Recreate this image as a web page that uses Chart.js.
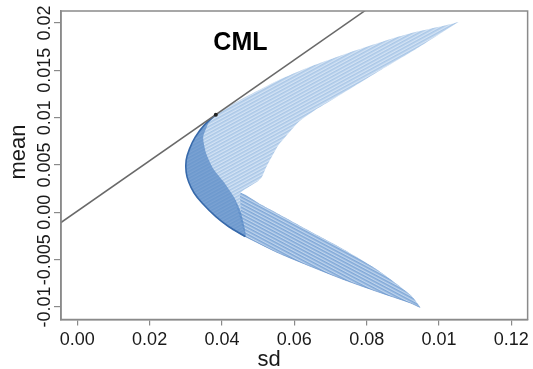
<!DOCTYPE html>
<html>
<head>
<meta charset="utf-8">
<script src="https://cdn.jsdelivr.net/npm/chart.js@4.4.1/dist/chart.umd.min.js"></script>
<style>
  html, body { margin: 0; padding: 0; background: #fff; }
</style>
</head>
<body>
<canvas id="graficaFrontera" width="533" height="369"></canvas>
<script>
// ejes
const xTicks = [0, 0.02, 0.04, 0.06, 0.08, 0.10, 0.12];
const xTickLabels = ['0.00', '0.02', '0.04', '0.06', '0.08', '0.01', '0.12'];
const yTicks = [-0.01, -0.005, 0, 0.005, 0.01, 0.015, 0.02];
const yTickLabels = ['-0.01', '-0.005', '0.00', '0.005', '0.01', '0.015', '0.02'];

// borde exterior de las fronteras (de la punta superior a la inferior)
const outerSd = [0.1054, 0.1013, 0.0921, 0.0830, 0.0739, 0.0647, 0.0556, 0.0474, 0.0419, 0.0383,
  0.0351, 0.0326, 0.0310, 0.0301, 0.0301, 0.0308, 0.0323, 0.0345, 0.0383, 0.0419,
  0.0465, 0.0556, 0.0647, 0.0739, 0.0830, 0.0921, 0.0948];
const outerMean = [0.02011, 0.01970, 0.01891, 0.01786, 0.01670, 0.01543, 0.01396, 0.01237, 0.01121, 0.01032,
  0.00921, 0.00794, 0.00668, 0.00552, 0.00425, 0.00320, 0.00204, 0.00098, -0.00046, -0.00152,
  -0.00257, -0.00429, -0.00574, -0.00714, -0.00838, -0.00957, -0.01004];

// borde interior (de la punta inferior de vuelta a la superior)
const innerSd = [0.0921, 0.0830, 0.0739, 0.0647, 0.0556, 0.0510, 0.0452, 0.0474, 0.0496, 0.0510,
  0.0521, 0.0537, 0.0556, 0.0584, 0.0611, 0.0657, 0.0748, 0.0838, 0.0931, 0.1022];
const innerMean = [-0.00872, -0.00609, -0.00398, -0.00208, -0.00018, 0.00077, 0.00204, 0.00267, 0.00320, 0.00372,
  0.00467, 0.00583, 0.00710, 0.00836, 0.00953, 0.01079, 0.01290, 0.01501, 0.01712, 0.01934];

// limite de la zona oscura de la nariz (de abajo hacia la tangente)
const noseEdgeSd = [0.0452, 0.0433, 0.0403, 0.0375, 0.0356, 0.0348, 0.0362];
const noseEdgeMean = [0.00003, 0.00161, 0.00330, 0.00467, 0.00626, 0.00794, 0.00942];

// CML
const cmlSd = [-0.005, 0.085];
const cmlMean = [-0.00121, 0.02276];
const tangenteSd = [0.0383];
const tangenteMean = [0.01032];

const puntos = (xs, ys) => xs.map((x, i) => ({ x: x, y: ys[i] }));

const exterior = puntos(outerSd, outerMean);
const interior = puntos(innerSd, innerMean);
const bordeNariz = puntos(noseEdgeSd, noseEdgeMean);

// banda completa, brazo inferior y nariz como poligonos cerrados
const bandaPuntos = exterior.concat(interior);
const brazoInferior = exterior.slice(20).concat(interior.slice(0, 7), bordeNariz.slice(0, 2));
const narizPuntos = exterior.slice(9, 21).concat(bordeNariz);

// relleno rayado: muchas curvas finas, una al lado de otra
function rayas(colorRaya, colorFondo, angulo) {
  const c = document.createElement('canvas');
  c.width = 1;
  c.height = 3;
  const g = c.getContext('2d');
  g.fillStyle = colorFondo;
  g.fillRect(0, 0, 1, 3);
  g.fillStyle = colorRaya;
  g.fillRect(0, 0, 1, 1.6);
  const p = g.createPattern(c, 'repeat');
  p.setTransform(new DOMMatrix().rotate(angulo));
  return p;
}

const fuente = "'Liberation Sans', Arial, Helvetica, sans-serif";
const gris = '#8a8a8a';

const textosPlugin = {
  id: 'textos',
  afterDraw(chart) {
    const ctx = chart.ctx;
    const area = chart.chartArea;
    const sy = chart.scales.y;
    const sx = chart.scales.x;
    ctx.save();
    // marco
    ctx.strokeStyle = gris;
    ctx.lineWidth = 1.5;
    ctx.strokeRect(area.left, area.top, area.right - area.left, area.bottom - area.top);

    // etiquetas del eje y, giradas
    ctx.fillStyle = '#1a1a1a';
    ctx.font = '18px ' + fuente;
    ctx.textAlign = 'center';
    ctx.textBaseline = 'alphabetic';
    yTicks.forEach((v, i) => {
      ctx.save();
      ctx.translate(area.left - 11, sy.getPixelForValue(v));
      ctx.rotate(-Math.PI / 2);
      ctx.fillText(yTickLabels[i], 0, 0);
      ctx.restore();
    });

    // titulos de ejes
    ctx.font = '22px ' + fuente;
    ctx.save();
    ctx.translate(25, 152);
    ctx.rotate(-Math.PI / 2);
    ctx.fillText('mean', 0, 0);
    ctx.restore();
    ctx.fillText('sd', 269, 366);

    // etiqueta CML
    ctx.font = 'bold 25px ' + fuente;
    ctx.fillStyle = '#000';
    ctx.textBaseline = 'middle';
    ctx.fillText('CML', sx.getPixelForValue(0.0451), sy.getPixelForValue(0.0179));
    ctx.restore();
  }
};

new Chart(document.getElementById('graficaFrontera'), {
  type: 'scatter',
  data: {
    datasets: [
      {
        label: 'fronteras',
        data: bandaPuntos,
        order: 7,
        showLine: true,
        fill: 'shape',
        backgroundColor: rayas('rgb(170, 199, 231)', 'rgb(212, 227, 244)', -28.5),
        borderWidth: 0,
        pointRadius: 0,
        tension: 0.2
      },
      {
        label: 'brazo inferior',
        data: brazoInferior,
        order: 6,
        showLine: true,
        fill: 'shape',
        backgroundColor: rayas('rgb(128, 168, 215)', 'rgb(192, 213, 237)', 28),
        borderWidth: 0,
        pointRadius: 0,
        tension: 0.2
      },
      {
        label: 'nariz',
        data: narizPuntos,
        order: 5,
        showLine: true,
        fill: 'shape',
        backgroundColor: 'rgba(75, 128, 192, 0.65)',
        borderWidth: 0,
        pointRadius: 0,
        tension: 0.2
      },
      {
        label: 'borde inferior',
        data: exterior.slice(20),
        order: 4,
        showLine: true,
        fill: false,
        borderColor: 'rgba(90, 135, 195, 0.55)',
        borderWidth: 1,
        pointRadius: 0,
        tension: 0.2
      },
      {
        label: 'borde',
        data: exterior.slice(9, 21),
        order: 3,
        showLine: true,
        fill: false,
        borderColor: 'rgb(55, 105, 170)',
        borderWidth: 1.6,
        pointRadius: 0,
        tension: 0.2
      },
      {
        label: 'CML',
        data: puntos(cmlSd, cmlMean),
        order: 2,
        showLine: true,
        fill: false,
        borderColor: 'rgb(105, 105, 105)',
        borderWidth: 1.5,
        pointRadius: 0
      },
      {
        label: 'tangente',
        data: puntos(tangenteSd, tangenteMean),
        order: 1,
        pointRadius: 2,
        pointBackgroundColor: '#222',
        pointBorderWidth: 0
      }
    ]
  },
  options: {
    responsive: false,
    animation: false,
    layout: { padding: { top: 11, right: 1, left: 0, bottom: 0 } },
    plugins: {
      legend: { display: false },
      tooltip: { enabled: false }
    },
    scales: {
      x: {
        type: 'linear',
        min: -0.0045,
        max: 0.1245,
        afterBuildTicks: s => { s.ticks = xTicks.map(v => ({ value: v })); },
        afterFit: s => { s.height = 49.5; },
        ticks: {
          callback: (v, i) => xTickLabels[i],
          font: { family: fuente, size: 18 },
          color: '#1a1a1a',
          padding: 4,
          maxRotation: 0,
          autoSkip: false
        },
        grid: { drawOnChartArea: false, drawTicks: true, tickLength: 6, color: gris, lineWidth: 1.2 },
        border: { display: true, color: gris, width: 1.5 }
      },
      y: {
        type: 'linear',
        min: -0.01132,
        max: 0.02127,
        afterBuildTicks: s => { s.ticks = yTicks.map(v => ({ value: v })); },
        afterFit: s => { s.width = 61; },
        ticks: { display: false },
        grid: { drawOnChartArea: false, drawTicks: true, tickLength: 7, color: gris, lineWidth: 1.2 },
        border: { display: true, color: gris, width: 1.5 }
      }
    }
  },
  plugins: [textosPlugin]
});
</script>
</body>
</html>
